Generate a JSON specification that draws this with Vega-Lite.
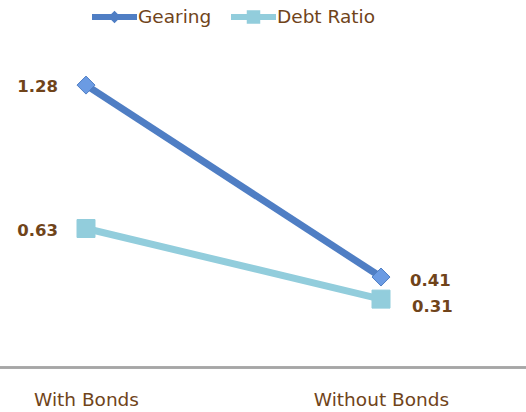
{
  "$schema": "https://vega.github.io/schema/vega-lite/v6.json",
  "width": 526,
  "height": 353,
  "autosize": "none",
  "padding": {"top": 14.5, "left": 0, "right": 0, "bottom": 44.5},
  "background": "white",
  "config": {"view": {"stroke": null}},
  "data": {
    "values": [
      {"category": "With Bonds", "series": "Gearing", "value": 1.28},
      {"category": "Without Bonds", "series": "Gearing", "value": 0.41},
      {"category": "With Bonds", "series": "Debt Ratio", "value": 0.63},
      {"category": "Without Bonds", "series": "Debt Ratio", "value": 0.31}
    ]
  },
  "encoding": {
    "x": {
      "field": "category",
      "type": "nominal",
      "scale": {"type": "point", "range": [86, 381], "padding": 0},
      "axis": {
        "title": null,
        "domain": false,
        "ticks": false,
        "labelAngle": 0,
        "labelFont": "DejaVu Sans",
        "labelFontSize": 18.5,
        "labelColor": "#70441A",
        "labelPadding": 23
      }
    },
    "y": {
      "field": "value",
      "type": "quantitative",
      "scale": {"domain": [0, 1.6], "nice": false},
      "axis": null
    }
  },
  "layer": [
    {
      "mark": {"type": "rule", "color": "#A6A6A6", "strokeWidth": 2},
      "encoding": {"x": null, "y": {"datum": 0}}
    },
    {
      "mark": {"type": "line", "strokeWidth": 7},
      "encoding": {
        "color": {
          "field": "series",
          "type": "nominal",
          "scale": {"domain": ["Gearing", "Debt Ratio"], "range": ["#4F7EC4", "#92CDDC"]}
        }
      }
    },
    {
      "transform": [{"filter": "false"}],
      "mark": {"type": "point", "filled": true, "opacity": 1},
      "encoding": {
        "color": {
          "field": "series",
          "type": "nominal",
          "legend": {
            "title": null,
            "orient": "none",
            "direction": "horizontal",
            "legendX": 92,
            "legendY": -20,
            "padding": 0,
            "labelFont": "DejaVu Sans",
            "labelFontSize": 18.5,
            "labelColor": "#70441A",
            "symbolSize": 2025,
            "symbolOpacity": 1,
            "symbolFillColor": null,
            "symbolStrokeWidth": 0,
            "labelOffset": 1,
            "columnPadding": 19
          }
        },
        "shape": {
          "field": "series",
          "type": "nominal",
          "scale": {
            "domain": ["Gearing", "Debt Ratio"],
            "range": [
              "M-1,-0.13H1V0.13H-1Z M0,-0.28L0.28,0L0,0.28L-0.28,0Z",
              "M-1,-0.13H1V0.13H-1Z M-0.3,-0.3H0.3V0.3H-0.3Z"
            ]
          }
        }
      }
    },
    {
      "mark": {"type": "point", "filled": true, "opacity": 1, "size": 324},
      "encoding": {
        "color": {
          "condition": {"test": "datum.series === 'Gearing'", "value": "#6B9BE3"},
          "value": "#92CDDC"
        },
        "shape": {
          "condition": {"test": "datum.series === 'Gearing'", "value": "diamond"},
          "value": "square"
        },
        "stroke": {
          "condition": {"test": "datum.series === 'Gearing'", "value": "#4F7EC4"},
          "value": "#92CDDC"
        },
        "strokeWidth": {"value": 1}
      }
    },
    {
      "transform": [{"filter": "datum.category === 'With Bonds'"}],
      "mark": {"type": "text", "align": "right", "dx": -28, "dy": 2, "font": "DejaVu Sans", "fontSize": 16.5, "fontWeight": "bold", "color": "#70441A"},
      "encoding": {"text": {"field": "value", "type": "quantitative", "format": ".2f"}}
    },
    {
      "transform": [{"filter": "datum.category === 'Without Bonds' && datum.series === 'Gearing'"}],
      "mark": {"type": "text", "align": "left", "dx": 29, "dy": 4, "font": "DejaVu Sans", "fontSize": 16.5, "fontWeight": "bold", "color": "#70441A"},
      "encoding": {"text": {"field": "value", "type": "quantitative", "format": ".2f"}}
    },
    {
      "transform": [{"filter": "datum.category === 'Without Bonds' && datum.series === 'Debt Ratio'"}],
      "mark": {"type": "text", "align": "left", "dx": 31, "dy": 8, "font": "DejaVu Sans", "fontSize": 16.5, "fontWeight": "bold", "color": "#70441A"},
      "encoding": {"text": {"field": "value", "type": "quantitative", "format": ".2f"}}
    }
  ]
}
